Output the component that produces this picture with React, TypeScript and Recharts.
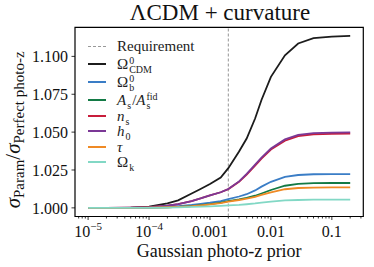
import React from "react";
import {
  LineChart,
  Line,
  XAxis,
  YAxis,
  ReferenceLine,
  ReferenceArea,
} from "recharts";

const FONT = '"Liberation Serif", "DejaVu Serif", serif';

// photo-z prior widths (x values)
const PRIORS = [
  1e-5, 2e-5, 5e-5, 1e-4, 2e-4, 3e-4, 5e-4, 7e-4, 1e-3, 1.5e-3, 2e-3, 3e-3,
  4e-3, 5.5e-3, 7e-3, 0.01, 0.017, 0.028, 0.05, 0.1, 0.2,
];

// sigma ratio per parameter
const OMEGA_CDM = [
  1.0, 1.0, 1.0002, 1.0008, 1.003, 1.005, 1.0095, 1.0125, 1.0157, 1.02, 1.0262,
  1.0372, 1.0458, 1.059, 1.0712, 1.0865, 1.1007, 1.1085, 1.112, 1.1131, 1.1135,
];
const OMEGA_B = [
  1.0, 1.0, 1.0, 1.0002, 1.0006, 1.0011, 1.0019, 1.0026, 1.0034, 1.0045, 1.0057,
  1.0075, 1.009, 1.0115, 1.014, 1.0172, 1.0205, 1.0217, 1.0222, 1.0223, 1.0223,
];
const A_S = [
  1.0, 1.0, 1.0, 1.0001, 1.0004, 1.0007, 1.0012, 1.0018, 1.0025, 1.0035, 1.0044,
  1.0056, 1.0066, 1.008, 1.0095, 1.0118, 1.0146, 1.0159, 1.0163, 1.0164, 1.0164,
];
const N_S = [
  1.0, 1.0, 1.0001, 1.0004, 1.0014, 1.0024, 1.0045, 1.0062, 1.0082, 1.0103,
  1.0124, 1.0172, 1.022, 1.0278, 1.0325, 1.0385, 1.0443, 1.0474, 1.0486, 1.0489,
  1.049,
];
const H_0 = [
  1.0, 1.0, 1.0001, 1.0004, 1.0014, 1.0024, 1.0045, 1.0062, 1.0082, 1.0103,
  1.0124, 1.0175, 1.0225, 1.0285, 1.0332, 1.0392, 1.0452, 1.0482, 1.0494,
  1.0497, 1.0498,
];
const TAU = [
  1.0, 1.0, 1.0, 1.0001, 1.0004, 1.0007, 1.0012, 1.0017, 1.0023, 1.0032, 1.0041,
  1.0052, 1.0061, 1.0073, 1.0085, 1.0103, 1.0123, 1.0131, 1.0134, 1.0135, 1.0135,
];
const OMEGA_K = [
  1.0, 1.0, 1.0, 1.0, 1.0002, 1.0003, 1.0006, 1.0008, 1.001, 1.0013, 1.0016,
  1.002, 1.0024, 1.0029, 1.0034, 1.0041, 1.0049, 1.0052, 1.0054, 1.0054, 1.0054,
];

const REQUIREMENT = 0.002;

const X_MAJOR = [1e-5, 1e-4, 1e-3, 1e-2, 1e-1];
const X_MAJOR_LABELS = [
  { base: "10", exp: "−5" },
  { base: "10", exp: "−4" },
  { base: "0.001", exp: "" },
  { base: "0.01", exp: "" },
  { base: "0.1", exp: "" },
];
const Y_TICKS = [1.0, 1.025, 1.05, 1.075, 1.1];

const X_DOMAIN: [number, number] = [Math.pow(10, -5.215), Math.pow(10, -0.484)];
const Y_DOMAIN: [number, number] = [0.9943, 1.1192];

// log minor ticks 2..9 per decade inside the domain
const X_MINOR: number[] = [];
for (let e = -6; e <= -1; e++) {
  for (let m = 2; m <= 9; m++) {
    const v = m * Math.pow(10, e);
    if (v >= X_DOMAIN[0] && v <= X_DOMAIN[1]) X_MINOR.push(v);
  }
}
const X_TICKS = [...X_MAJOR, ...X_MINOR].sort((a, b) => a - b);

const SERIES = [
  { key: "cdm", values: OMEGA_CDM, color: "#1c1c1c" },
  { key: "b", values: OMEGA_B, color: "#3a7dc6" },
  { key: "as", values: A_S, color: "#137a45" },
  { key: "ns", values: N_S, color: "#c81d3b" },
  { key: "h0", values: H_0, color: "#7b3896" },
  { key: "tau", values: TAU, color: "#ef8a25" },
  { key: "k", values: OMEGA_K, color: "#82d8c5" },
];

const data = PRIORS.map((x, i) => {
  const row: Record<string, number> = { x };
  SERIES.forEach((s) => (row[s.key] = s.values[i]));
  return row;
});

// stacked super/subscript pinned to the text baseline
const SupSub = ({ sup, sub, w }: { sup?: string; sub?: string; w: number }) => (
  <span style={{ position: "relative", display: "inline-block", width: w, height: 0 }}>
    {sup && (
      <span style={{ position: "absolute", left: 1, bottom: 4, fontSize: 10, lineHeight: "8px" }}>
        {sup}
      </span>
    )}
    {sub && (
      <span style={{ position: "absolute", left: 1, top: -3, fontSize: 10, lineHeight: "8px" }}>
        {sub}
      </span>
    )}
  </span>
);

const LEGEND_ROWS: { label: React.ReactNode; color: string; dashed?: boolean; h: number }[] = [
  { label: "Requirement", color: "#999", dashed: true, h: 18 },
  { label: <>Ω<SupSub sup="0" sub="CDM" w={24} /></>, color: SERIES[0].color, h: 18.3 },
  { label: <>Ω<SupSub sup="0" sub="b" w={7} /></>, color: SERIES[1].color, h: 18.4 },
  {
    label: (
      <>
        <i>A</i>
        <SupSub sub="s" w={6} />/<i>A</i>
        <SupSub sup="fid" sub="s" w={13} />
      </>
    ),
    color: SERIES[2].color,
    h: 16.8,
  },
  { label: <><i>n</i><SupSub sub="s" w={6} /></>, color: SERIES[3].color, h: 15.3 },
  { label: <><i>h</i><SupSub sub="0" w={6} /></>, color: SERIES[4].color, h: 15.2 },
  { label: <i>τ</i>, color: SERIES[5].color, h: 15.3 },
  { label: <>Ω<SupSub sub="k" w={6} /></>, color: SERIES[6].color, h: 15.3 },
];

const LegendBox = () => (
  <div
    style={{
      position: "absolute",
      left: 88,
      top: 37,
      fontFamily: FONT,
      fontSize: 15,
      color: "#222",
    }}
  >
    {LEGEND_ROWS.map((r, i) => (
      <div
        key={i}
        style={{ height: r.h, display: "flex", alignItems: "center", whiteSpace: "nowrap" }}
      >
        <div
          style={{
            width: 18,
            height: 0,
            borderTop: r.dashed ? `1px dashed ${r.color}` : `2px solid ${r.color}`,
            marginRight: 11,
          }}
        />
        <span style={{ lineHeight: "14px" }}>{r.label}</span>
      </div>
    ))}
  </div>
);

const XTick = (props: any) => {
  const { x, y, payload } = props;
  const idx = X_MAJOR.indexOf(payload.value);
  const major = idx >= 0;
  const lab = major ? X_MAJOR_LABELS[idx] : null;
  return (
    <g>
      <line x1={x} x2={x} y1={y} y2={y + (major ? 3.5 : 2)} stroke="#000" strokeWidth={0.8} />
      {lab && (
        <text x={x} y={y + 20.5} textAnchor="middle" fontFamily={FONT} fontSize={16} fill="#111">
          <tspan>{lab.base}</tspan>
          {lab.exp && (
            <tspan dy={-7} fontSize={11}>
              {lab.exp}
            </tspan>
          )}
        </text>
      )}
    </g>
  );
};

export default function App() {
  return (
    <div style={{ position: "absolute", left: 0, top: 0, width: 374, height: 267, background: "#fff" }}>
      <div
        style={{
          position: "absolute",
          left: 0,
          width: 440,
          top: -1,
          textAlign: "center",
          fontFamily: FONT,
          fontSize: 23,
          lineHeight: "27px",
          color: "#111",
        }}
      >
        ΛCDM + curvature
      </div>
      <LineChart
        width={374}
        height={267}
        data={data}
        margin={{ top: 27.3, right: 10.7, bottom: 0, left: 0 }}
      >
        <XAxis
          dataKey="x"
          type="number"
          scale="log"
          domain={X_DOMAIN}
          allowDataOverflow
          ticks={X_TICKS}
          interval={0}
          tick={<XTick />}
          tickLine={false}
          tickSize={0}
          tickMargin={0}
          axisLine={false}
          height={50.5}
          label={{
            content: ({ viewBox }: any) => (
              <text
                x={viewBox.x + viewBox.width / 2}
                y={viewBox.y + 40}
                textAnchor="middle"
                fontFamily={FONT}
                fontSize={18}
                fill="#111"
              >
                Gaussian photo-z prior
              </text>
            ),
          }}
        />
        <YAxis
          type="number"
          domain={Y_DOMAIN}
          allowDataOverflow
          ticks={Y_TICKS}
          interval={0}
          tickFormatter={(v: number) => v.toFixed(3)}
          tick={{ fill: "#111", fontSize: 16, fontFamily: FONT }}
          tickLine={{ stroke: "#000", strokeWidth: 0.8 }}
          tickSize={3.5}
          tickMargin={3.5}
          axisLine={false}
          width={75}
          label={{
            content: ({ viewBox }: any) => {
              const cx = 20;
              const cy = viewBox.y + viewBox.height / 2 + 8;
              return (
                <text
                  x={cx}
                  y={cy}
                  transform={`rotate(-90, ${cx}, ${cy})`}
                  textAnchor="middle"
                  fontFamily={FONT}
                  fontSize={21}
                  fill="#111"
                >
                  <tspan fontStyle="italic">σ</tspan>
                  <tspan fontSize={15} dy={4}>Param</tspan>
                  <tspan dy={-4}>/</tspan>
                  <tspan fontStyle="italic">σ</tspan>
                  <tspan fontSize={15} dy={4}>Perfect photo-z</tspan>
                </text>
              );
            },
          }}
        />
        <ReferenceArea
          x1={X_DOMAIN[0]}
          x2={X_DOMAIN[1]}
          y1={Y_DOMAIN[0]}
          y2={Y_DOMAIN[1]}
          fill="none"
          stroke="#000"
          strokeWidth={1.2}
          ifOverflow="visible"
        />
        <ReferenceLine
          x={REQUIREMENT}
          stroke="#888"
          strokeWidth={0.9}
          strokeDasharray="3 2"
        />
        {SERIES.map((s) => (
          <Line
            key={s.key}
            type="linear"
            dataKey={s.key}
            stroke={s.color}
            strokeWidth={1.8}
            dot={false}
            isAnimationActive={false}
          />
        ))}
      </LineChart>
      <LegendBox />
    </div>
  );
}
